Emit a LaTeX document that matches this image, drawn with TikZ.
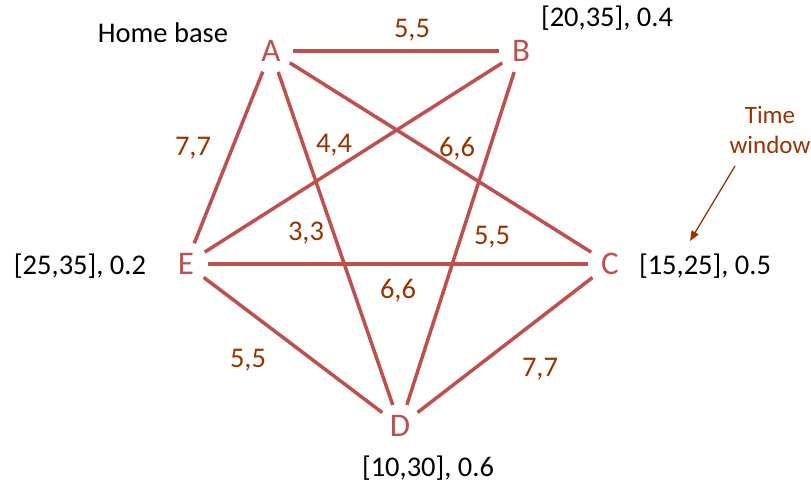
\documentclass[tikz,border=0pt]{standalone}
\usepackage{fontspec}
\setmainfont{Carlito}
\usetikzlibrary{arrows.meta}
\definecolor{nodered}{RGB}{192,80,77}
\definecolor{wbrown}{RGB}{153,51,0}
\begin{document}
\begin{tikzpicture}[x=1pt,y=-1pt,
  city/.style={circle,minimum size=44pt,inner sep=0pt,text=nodered,font=\fontsize{33}{38}\selectfont},
  edge/.style={draw=nodered,line width=3.5pt},
  wt/.style={text=wbrown,inner sep=0pt,font=\fontsize{28.5}{34}\selectfont},
  info/.style={text=black,inner sep=0pt,font=\fontsize{28.5}{34}\selectfont},
  pointer/.style={draw=wbrown,line width=1.3pt,-{Triangle[length=10pt,width=8pt]}}]
\useasboundingbox (0,0) rectangle (811,488);
\node[city] (A) at (271,51) {A};
\node[city] (B) at (521,51) {B};
\node[city] (C) at (610,264) {C};
\node[city] (D) at (400,426) {D};
\node[city] (E) at (186,264) {E};
\draw[edge] (A) -- (B);
\draw[edge] (A) -- (E);
\draw[edge] (A) -- (D);
\draw[edge] (A) -- (C);
\draw[edge] (E) -- (B);
\draw[edge] (B) -- (D);
\draw[edge] (E) -- (C);
\draw[edge] (E) -- (D);
\draw[edge] (D) -- (C);
\node[wt] (wab) at (412,30) {5,5};
\node[wt] (wae) at (193,148) {7,7};
\node[wt] (web) at (334,145) {4,4};
\node[wt] (wac) at (457,149) {6,6};
\node[wt] (wad) at (306,233) {3,3};
\node[wt] (wbd) at (492,237) {5,5};
\node[wt] (wec) at (398,291) {6,6};
\node[wt] (wed) at (248,360) {5,5};
\node[wt] (wdc) at (540,369) {7,7};
\node[info] (home) at (163,33) {Home base};
\node[info] (ib) at (607,18) {[20,35], 0.4};
\node[info] (ie) at (80,266) {[25,35], 0.2};
\node[info] (ic) at (705,266) {[15,25], 0.5};
\node[info] (id) at (428,468) {[10,30], 0.6};
\node[wt,align=center,font=\fontsize{25}{30}\selectfont] (tw) at (770,130) {Time\\window};
\coordinate (twstart) at (735,166);
\coordinate (twend) at (690,241);
\draw[pointer] (twstart) -- (twend);
\end{tikzpicture}
\end{document}
